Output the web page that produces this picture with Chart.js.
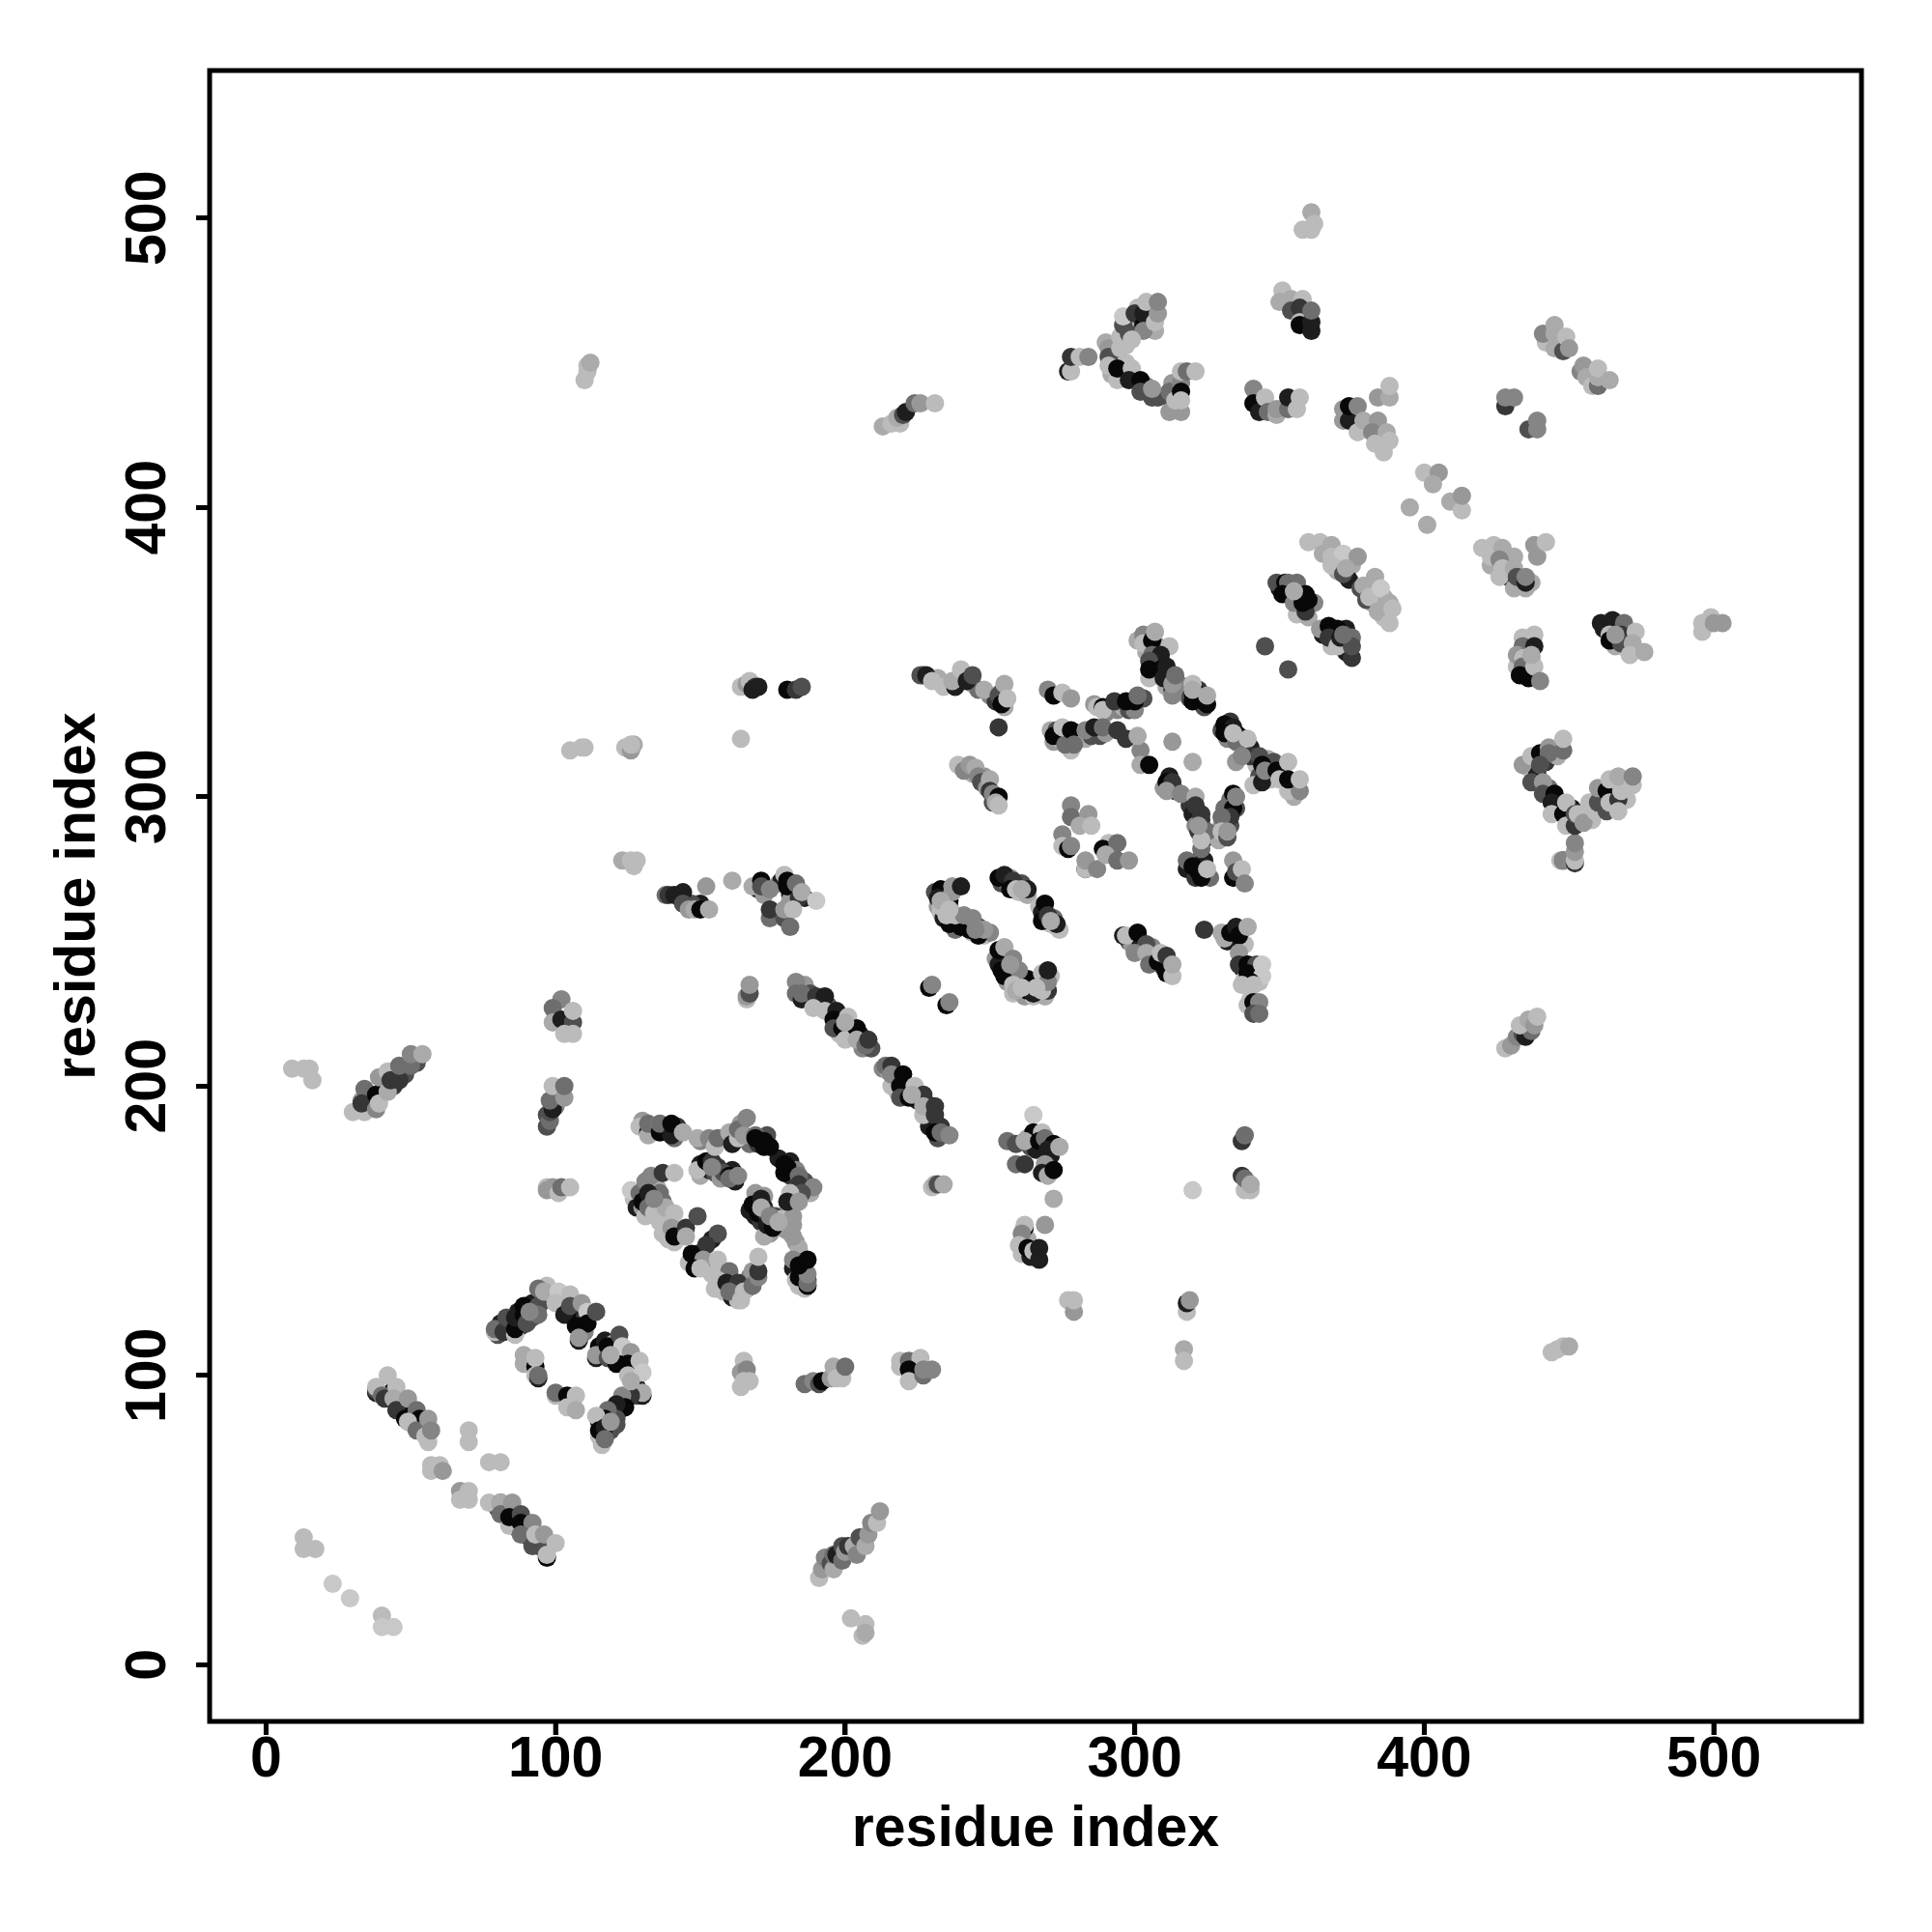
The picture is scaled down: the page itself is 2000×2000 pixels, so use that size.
<!DOCTYPE html>
<html>
<head>
<meta charset="utf-8">
<style>
    html, body { margin: 0; padding: 0; background: #fff; }
    canvas { display: block; }
</style>
<script src="https://cdn.jsdelivr.net/npm/chart.js@4"></script>
</head>
<body>
<canvas id="contactMap" width="2000" height="2000"></canvas>
<script>
// ================= DATA =================
// every point is [residue i, residue j, score], score 0 (dark) .. 9 (pale)
const tickValues = [0, 100, 200, 300, 400, 500];
const shadeLevels = [8, 30, 54, 79, 110, 133, 152, 170, 187, 200];

// pale points sitting on top of the dark runs
const topmost = [[233,264,7],[236,261,8],[245,254,5],[261,268,7],[271,257,7],[257,242,6],[261,234,8],[266,234,8],[171,158,7],[174,155,5],[177,153,7],[134,161,5],[145,148,7],[320,337,7],[325,335,7],[334,322,8],[337,314,5],[322,290,6],[355,371,7],[372,356,4],[437,349,7],[466,356,6],[91,122,5],[119,107,7],[126,98,7],[119,84,6],[200,222,7],[223,197,7],[154,172,5]];

const cornerLow = [[13,44,8],[13,40,8],[17,40,8],[23,28,9],[29,23,9],[40,17,8],[40,13,9],[44,13,9],[202,16,8],[207,14,8],[206,10,8],[207,11,7],[444,108,8],[446,109,8],[448,110,8],[450,110,7]];
const strandLowA = [[38,95,3],[38,96,8],[42,100,8],[40,93,4],[41,92,2],[45,96,8],[44,92,7],[45,88,2],[49,92,6],[48,85,0],[52,88,4],[53,85,0],[49,84,8],[52,81,4],[56,85,6],[56,77,8],[55,79,8],[57,81,5]];
const patchLow = [[57,69,8],[60,69,8],[57,67,8],[61,67,6],[70,81,8],[70,77,8],[77,70,8],[81,70,8],[67,60,6],[70,60,8],[67,57,8],[70,57,8]];
const strandLowB = [[77,56,8],[81,56,4],[81,56,7],[81,52,4],[85,56,6],[84,48,8],[84,51,0],[88,52,3],[88,49,0],[92,49,5],[88,45,4],[92,41,3],[93,45,8],[96,45,6],[100,42,8],[97,37,0],[97,38,8]];
const blockOuter = [[79,115,8],[79,116,4],[82,115,2],[83,120,3],[86,114,8],[86,116,0],[86,120,1],[89,124,0],[89,121,0],[90,118,3],[94,130,4],[94,124,3],[94,121,4],[96,129,7],[101,129,9],[100,125,8],[105,128,8],[103,121,1],[105,124,3],[109,125,6],[107,117,0],[111,122,9],[111,118,0],[114,122,3],[108,112,1],[108,113,6],[114,106,1],[114,107,6],[118,110,0],[122,114,3],[118,106,3],[123,110,9],[121,104,0],[126,108,6],[125,104,0],[125,100,8],[129,105,8],[130,101,9],[130,93,1],[130,94,7],[126,93,2],[123,93,5],[124,89,0],[121,90,1],[121,85,3],[118,88,4],[117,85,0],[114,86,8],[121,83,3],[115,79,8],[115,81,0],[117,82,1],[117,78,4]];
const blockInner = [[89,107,7],[89,104,7],[93,103,0],[93,106,8],[93,100,8],[94,99,1],[94,100,4],[100,93,8],[100,94,4],[104,93,0],[107,93,8],[104,89,8],[107,88,7]];
const helixLeft = [[9,206,8],[13,206,8],[15,206,8],[16,202,8],[30,191,8],[34,191,8],[33,195,6],[34,199,4],[33,194,2],[38,192,5],[38,197,0],[39,194,8],[39,203,6],[42,198,7],[42,205,8],[43,202,2],[46,202,2],[46,207,4],[50,207,4],[50,211,5],[54,211,7]];
const columnA = [[102,230,5],[99,227,4],[99,222,7],[102,223,1],[106,222,3],[103,218,8],[106,218,8],[106,226,8]];
const columnB = [[97,186,3],[98,188,4],[98,191,3],[99,192,1],[98,195,4],[99,200,8],[103,196,6],[103,200,4]];
const columnC = [[97,165,8],[97,164,6],[99,165,6],[101,163,8],[102,165,4],[105,165,8]];
const fanTop = [[129,186,8],[132,184,0],[132,183,7],[132,187,4],[136,187,8],[136,184,0],[136,187,4],[141,182,4],[140,183,1],[140,187,0],[144,184,7],[149,182,7],[153,182,5],[155,179,8],[156,182,4],[160,184,7],[161,180,1],[163,182,8],[163,185,4],[165,183,6],[166,189,5],[169,183,4],[169,182,0],[172,181,0],[172,179,0],[174,179,0]];
const fanRight = [[179,173,0],[180,172,0],[179,170,0],[184,169,4],[184,166,2],[189,165,5],[185,163,3],[181,163,8],[180,160,1],[184,160,6]];
const fanInner = [[149,171,8],[152,174,0],[154,174,2],[156,172,2],[158,170,3],[160,169,0],[160,168,4],[163,169,5]];
const fanMiddle = [[169,163,6],[168,159,0],[171,161,1],[170,156,0],[173,156,3],[172,148,7],[173,152,1],[175,151,0],[175,153,0],[178,154,8],[182,148,6],[182,152,6],[182,155,6]];
const fanTail = [[184,144,7],[182,140,5],[184,131,8],[186,130,8],[184,134,0],[187,131,0],[187,132,4],[187,135,5],[184,138,0],[187,140,0]];
const fanLeft = [[126,164,9],[129,163,4],[131,167,5],[133,169,5],[137,170,2],[141,170,8],[130,160,0],[132,163,1],[132,158,4],[137,160,4],[134,156,8],[138,158,7],[141,156,8],[137,149,8],[140,151,6],[141,146,8],[141,148,0],[145,151,2],[149,155,3]];
const fanLower = [[156,149,3],[152,145,2],[147,142,0],[151,140,6],[148,137,0],[150,137,8],[156,140,8],[157,137,8],[160,136,4],[156,133,8],[159,132,1],[163,132,2],[160,129,4],[164,126,8],[165,129,8],[168,136,6],[168,131,4],[170,134,5],[170,136,2],[170,141,8]];
const rowHundred = [[165,105,8],[164,101,6],[166,102,5],[164,96,8],[165,98,8],[167,98,8],[186,97,4],[189,98,5],[191,97,3],[192,98,0],[195,99,6],[196,103,7],[199,99,8],[197,99,8],[200,103,4],[219,105,8],[219,103,8],[222,105,4],[226,106,8],[222,102,0],[222,98,8],[227,100,4],[227,102,5],[230,102,5]];
const rowSide = [[230,165,8],[231,166,7],[232,166,3],[234,166,7]];
const patchMid = [[139,266,2],[141,266,1],[144,267,1],[144,263,3],[146,261,6],[148,261,7],[152,269,6],[150,261,0],[153,261,7],[161,271,7],[168,269,7],[171,271,0],[171,269,3],[174,268,5],[179,273,8],[180,271,0],[180,269,0],[183,270,4],[184,265,2],[185,267,7],[190,264,9],[174,258,4],[174,261,2],[179,258,3],[179,261,6],[182,261,8],[181,255,4]];
const columnD = [[166,230,8],[166,231,6],[167,232,3],[167,235,6]];
const strandMid = [[183,236,5],[183,232,4],[185,230,1],[185,232,4],[190,231,2],[193,231,1],[189,227,8],[193,226,8],[197,226,1],[196,223,0],[201,224,8],[196,220,3],[199,220,0],[200,216,8],[204,220,0],[204,216,7],[207,214,4],[208,216,2],[214,207,4],[216,207,2],[216,200,8],[216,204,5],[220,204,0],[219,200,0],[219,196,3],[224,200,8],[222,196,0],[227,197,2],[227,190,8],[227,193,7],[231,193,2],[231,190,2],[231,184,0],[233,184,4],[236,183,5],[229,234,0],[230,235,5],[235,228,0],[236,229,5]];
const archLeft = [[233,268,0],[232,265,1],[236,264,0],[236,256,0],[240,255,0],[243,254,0],[246,252,0],[233,262,8],[237,267,6],[237,269,6],[240,269,1],[235,259,8],[238,259,8],[241,259,5],[244,258,5],[248,254,6]];
const archRight = [[253,272,0],[255,273,1],[258,271,2],[257,268,0],[263,268,1],[259,268,8],[269,263,0],[268,257,0],[270,259,2],[273,255,8],[273,256,1]];
const archLow = [[253,247,0],[254,240,0],[255,238,0],[263,237,0],[263,233,0],[265,232,1],[268,235,0],[255,248,7],[258,244,5],[260,240,5],[258,235,8],[259,233,7],[268,233,8],[268,239,8],[270,236,5],[270,240,1]];
const sheetMid = [[296,252,1],[297,252,8],[301,253,0],[304,249,3],[300,246,5],[304,246,7],[305,242,4],[308,243,0],[309,246,8],[311,245,2],[311,239,0],[313,238,8],[313,242,7]];
const sheetRight = [[324,254,2],[331,251,7],[333,253,0],[335,255,1],[336,252,0],[339,255,7],[336,246,6],[336,242,2],[339,242,0],[342,242,3],[339,239,0],[344,238,9],[340,236,0],[337,235,8],[341,235,8],[344,242,9],[340,230,8],[341,229,0],[343,229,5],[341,225,3],[343,225,4]];
const colLowRight = [[256,181,4],[259,180,3],[265,190,9],[265,184,0],[262,181,7],[268,184,8],[267,181,0],[269,182,4],[272,180,0],[270,178,1],[274,179,7],[259,173,4],[262,173,2],[269,173,6],[268,170,1],[270,169,7],[272,171,0],[272,161,7]];
const colLowDown = [[262,151,0],[262,152,8],[261,149,5],[269,152,6],[260,145,8],[263,144,0],[265,143,8],[267,144,1],[267,140,1],[277,126,8],[279,122,6],[279,126,8],[318,122,8],[318,125,1],[319,126,6],[317,109,7],[317,105,8],[320,164,9],[337,181,2],[338,183,4],[337,169,2],[338,164,8],[338,168,4],[340,164,8],[340,166,7]];
const starUp = [[303,356,5],[303,353,8],[306,354,0],[307,357,7],[312,352,8],[306,349,4],[309,349,1],[305,347,3],[305,341,8],[305,344,0],[309,344,0],[311,345,1],[310,341,1],[313,335,5],[313,339,6],[314,342,4],[320,339,8],[320,336,0],[323,335,0],[320,333,0],[324,333,0],[325,332,0]];
const starRight = [[331,325,0],[334,324,1],[331,322,0],[335,312,6],[336,321,0],[335,319,4],[339,320,8],[340,314,2],[343,314,3],[341,304,8],[344,305,1],[344,311,0],[345,309,5],[349,309,0],[353,312,8],[350,306,8],[353,302,8],[357,302,5],[353,306,0],[357,306,8]];
const starOffs = [[345,352,3],[353,344,3],[313,319,6],[320,312,7]];
const starLeft = [[270,337,5],[272,335,0],[275,336,8],[278,334,6],[287,331,8],[289,331,0],[289,330,8],[293,333,2],[300,333,0],[297,333,0],[301,335,4],[273,323,3],[272,321,0],[276,318,4],[275,324,8],[278,323,0],[279,318,4],[283,323,5],[286,324,1],[289,324,4],[294,323,2],[297,320,2],[302,316,5],[302,311,7],[305,311,0],[301,321,7]];
const starLower = [[311,305,0],[313,305,2],[311,302,6],[316,301,5],[321,300,7],[321,297,2],[323,294,2],[322,288,2],[325,288,4],[323,282,4],[323,285,8],[334,301,0],[331,296,4],[334,296,0],[333,293,2],[330,293,4],[330,288,8],[332,286,3],[332,288,6],[335,300,5]];
const starFoot = [[318,278,4],[320,276,0],[322,274,0],[323,272,0],[325,275,8],[334,272,0],[334,278,6],[335,274,3],[337,275,8],[338,270,5]];
const patchUpperMid = [[278,297,5],[278,293,4],[284,294,6],[281,290,7],[285,290,8],[275,287,5],[275,283,8],[277,282,0],[278,283,5],[291,284,8],[289,282,0],[290,280,6],[294,284,4],[283,275,0],[283,275,8],[283,278,6],[287,275,5],[290,280,7],[294,278,4],[298,278,6]];
const strandTopA = [[360,388,8],[364,388,8],[365,384,7],[368,387,7],[368,383,8],[372,384,9],[377,383,6],[368,380,8],[372,377,3],[373,379,7],[383,376,7],[378,372,3],[379,373,7],[380,368,3],[381,369,8],[385,372,9],[388,367,7],[384,364,7],[389,365,8],[388,360,8]];
const strandTopB = [[349,374,3],[352,374,0],[353,374,4],[356,374,4],[351,370,0],[354,370,0],[355,367,5],[359,364,7],[359,364,2],[358,367,0],[359,370,0],[360,368,0]];
const strandTopC = [[364,358,6],[367,359,0],[370,358,0],[367,355,2],[375,355,4],[370,352,8],[371,355,1],[375,348,2],[375,352,3]];
const paleRightA = [[420,386,8],[424,387,8],[423,383,8],[427,386,7],[431,383,7],[426,382,5],[427,379,8],[426,376,8],[431,379,7],[431,372,7],[435,372,7],[432,376,3],[435,374,1],[435,376,5],[439,383,6],[438,387,6],[442,388,8]];
const colRightA = [[438,356,8],[434,355,8],[434,352,4],[438,352,1],[432,349,6],[434,348,0],[434,348,8],[434,345,4],[433,342,0],[436,341,0],[438,345,8],[440,340,5]];
const strandFarRight = [[461,360,1],[465,361,1],[469,360,4],[464,356,8],[464,354,0],[468,356,2],[468,353,3],[473,357,8],[472,353,7],[471,349,8],[476,350,7],[496,360,8],[496,357,8],[499,362,8],[500,360,6],[503,360,6]];
const curveRight = [[434,311,6],[437,314,8],[440,315,0],[443,317,6],[443,315,4],[448,316,4],[448,320,8],[440,311,3],[437,305,3],[441,305,6],[441,301,3],[445,301,0],[444,298,1],[444,294,8],[448,294,0],[449,290,8],[449,298,8],[452,290,2],[452,294,3],[453,294,8],[455,291,6],[457,298,8],[459,295,8],[460,298,3],[460,303,6],[463,302,0],[463,295,3],[464,306,8],[464,298,8],[467,299,2],[467,295,8],[468,302,8],[467,307,7],[472,304,8],[472,307,5]];
const curveFoot = [[447,278,8],[448,278,1],[448,278,5],[452,277,2],[452,278,8],[452,281,6],[452,284,5]];
const colFarRight = [[428,213,8],[430,214,6],[432,217,5],[434,218,3],[435,217,1],[437,219,4],[433,221,8],[436,223,7],[438,221,6],[439,224,8]];
const capTop = [[358,496,8],[361,496,8],[361,502,7],[362,498,8]];
const capStrand = [[351,475,8],[350,471,7],[354,472,7],[358,472,8],[354,468,3],[357,469,2],[357,464,8],[357,463,0],[361,461,1],[361,464,1],[361,468,4]];
const bowlLeft = [[277,447,1],[278,447,8],[278,452,2],[281,452,8],[284,452,5]];
const bowl = [[291,455,6],[291,452,3],[291,449,8],[294,444,8],[294,448,0],[295,455,8],[295,459,8],[296,463,3],[296,466,9],[298,460,3],[300,467,2],[303,463,0],[303,467,1],[303,461,5],[304,471,8],[307,464,8],[308,467,6],[308,471,5],[299,458,8],[299,448,8],[298,444,1],[302,444,0],[302,440,3],[306,438,3],[306,441,6]];
const bowlRight = [[312,433,6],[312,440,4],[314,437,8],[316,443,5],[316,440,0],[316,437,8],[316,447,8],[318,447,4],[321,447,8]];
const capMid = [[341,441,5],[341,436,0],[343,433,1],[345,438,8],[346,433,4],[349,432,7],[349,434,6],[353,434,4],[353,438,1],[356,434,8],[357,438,8]];
const capLow = [[372,434,6],[372,430,6],[374,430,1],[374,435,0],[377,435,5],[377,426,8],[380,427,8],[379,430,7],[384,430,6],[382,426,5],[387,426,7],[383,422,8],[386,419,8],[388,423,8],[384,438,6],[388,438,7],[388,442,8]];
const paleCross = [[400,412,8],[405,412,6],[403,408,7],[409,402,7],[413,399,8],[413,404,6],[395,400,7],[401,394,7]];
const pairDark = [[428,435,2],[428,438,5],[431,438,5],[436,427,3],[439,427,5],[439,430,5]];
const capFar = [[442,457,8],[441,460,5],[445,455,7],[445,460,7],[445,463,7],[448,454,3],[449,459,8],[450,455,6],[454,447,5],[455,449,6],[456,445,7],[458,442,8],[460,442,4],[460,445,7],[460,448,8],[464,444,7]];
const shoulder = [[213,428,7],[216,429,8],[219,429,8],[218,431,7],[220,432,3],[221,433,1],[224,436,4],[226,436,6],[231,436,8],[110,444,8],[111,447,8],[111,449,8],[112,450,7]];
const pale300 = [[105,316,8],[109,317,8],[110,317,8],[124,317,8],[126,316,6],[127,318,7],[126,318,8],[123,278,7],[126,278,8],[127,276,8],[128,278,8],[164,320,8]];
const pale340 = [[164,338,8],[166,339,6],[167,340,8],[169,338,2],[168,337,1],[170,338,1],[180,337,0],[183,337,2],[185,338,3]];
const ridge340 = [[226,342,3],[228,342,1],[230,340,8],[237,340,7],[240,344,8],[242,340,1],[244,342,3],[248,337,7],[253,335,3],[254,332,0],[253,324,2],[255,339,7],[256,334,8]];
const ridge305 = [[239,311,8],[241,309,5],[243,311,6],[245,310,7],[246,307,5],[247,305,3],[249,303,6],[250,306,7],[250,302,2],[251,301,5],[253,300,0],[252,298,7],[253,297,8]];
const strandBottom = [[191,30,8],[192,33,6],[193,37,5],[195,35,3],[196,33,7],[196,38,4],[197,38,1],[199,36,4],[199,41,3],[200,39,6],[201,41,2],[203,41,7],[204,38,5],[205,44,3],[207,41,7],[208,45,6],[209,49,5],[211,49,8],[212,53,6]];

// points that show only as rims behind the ones above
const archUnder = [[231,267,3],[232,262,6],[234,266,0],[233,260,8],[234,258,1],[236,262,5],[238,254,4],[239,257,2],[241,256,8],[244,253,8],[246,255,3],[248,252,8],[250,253,5],[254,270,3],[256,270,4],[257,272,6],[258,269,1],[261,270,3],[260,267,8],[263,266,7],[267,262,8],[268,260,1],[272,258,4],[271,256,8],[274,254,8],[252,244,6],[254,243,7],[256,241,3],[253,242,1],[257,239,8],[256,236,6],[258,232,8],[260,237,3],[262,231,6],[265,231,8],[266,233,2],[269,231,7],[270,233,2],[271,238,8]];
const starUnder = [[304,350,7],[306,346,8],[308,352,5],[307,342,4],[311,338,7],[312,343,8],[313,337,2],[315,339,3],[316,336,8],[318,338,5],[319,334,3],[322,337,2],[324,331,3],[330,323,3],[332,320,5],[333,326,2],[335,322,6],[337,318,4],[339,315,6],[340,317,1],[342,311,8],[343,307,3],[346,313,7],[347,306,8],[348,312,3],[351,307,7],[355,305,3],[355,300,7],[271,323,7],[272,319,6],[274,320,8],[277,320,2],[278,316,8],[283,320,7],[285,321,3],[288,321,3],[290,322,6],[286,332,6],[290,329,5],[294,330,5],[296,331,7],[298,330,3],[300,330,5],[303,334,3],[310,303,6],[312,307,1],[314,302,3],[319,297,2],[320,294,1],[321,290,5],[323,292,2],[325,286,3],[323,279,3],[318,275,1],[321,272,2],[324,278,1],[326,272,4],[328,287,7],[330,290,6],[333,299,4],[335,296,3],[329,285,7],[333,290,3]];
const bowlUnder = [[290,457,7],[292,453,1],[293,451,5],[292,446,7],[296,446,2],[297,450,8],[297,456,8],[298,463,1],[300,461,6],[299,465,7],[301,469,8],[304,466,7],[305,463,3],[305,469,7],[307,461,7],[304,442,5],[308,438,3],[313,437,3],[313,443,6],[315,434,8],[316,433,6]];
const fanUnder = [[130,188,6],[134,186,1],[138,185,2],[142,186,2],[150,181,5],[158,182,7],[162,184,5],[164,187,6],[167,180,4],[170,180,2],[173,183,3],[177,175,1],[181,174,1],[181,169,2],[183,171,5],[186,167,3],[188,163,7],[150,173,1],[150,169,7],[153,171,1],[155,170,3],[157,168,6],[161,171,1],[162,167,1],[170,160,1],[172,162,6],[167,157,1],[169,155,1],[171,153,2],[172,158,1],[174,149,6],[176,155,3],[178,151,6],[180,150,6],[183,146,6],[182,137,1],[183,133,8],[186,137,2],[187,133,1],[127,161,8],[128,158,1],[130,158,6],[133,161,3],[135,165,7],[135,158,5],[136,163,4],[131,155,8],[136,153,8],[139,147,8],[143,149,1],[154,147,1],[149,142,1],[146,139,8],[152,137,7],[154,135,8],[155,130,8],[158,134,2],[158,129,8],[161,127,1],[163,129,8],[166,130,3],[167,134,5],[163,126,8]];
const blockUnder = [[80,114,3],[81,118,1],[84,117,2],[85,119,0],[87,122,1],[88,117,2],[92,125,1],[92,120,3],[96,126,3],[97,131,8],[99,128,8],[102,125,0],[104,126,6],[106,120,1],[107,123,0],[110,120,2],[110,115,5],[115,110,0],[117,112,1],[120,106,1],[120,111,7],[123,106,0],[126,102,7],[127,97,8],[128,93,3],[128,96,1],[122,88,1],[119,86,3],[115,84,1],[119,81,3],[116,76,8]];
const strandUnder = [[186,235,6],[188,232,3],[191,228,8],[194,228,3],[198,222,1],[198,218,8],[202,220,1],[205,218,1],[206,213,5],[209,213,3],[213,206,5],[215,205,6],[218,202,1],[218,198,8],[221,198,1],[224,197,7],[225,195,1],[228,194,1],[230,187,2],[233,186,2],[229,186,1],[232,182,3],[38,94,1],[43,94,1],[47,90,1],[50,87,0],[51,83,3],[54,83,2],[55,81,1],[80,54,3],[83,52,1],[85,50,1],[87,47,1],[90,47,1],[91,44,1],[94,41,3],[95,43,7],[96,40,3],[36,193,6],[38,195,3],[40,198,1],[44,200,2],[48,204,3],[52,208,3],[97,190,3],[100,193,5],[101,197,7]];
const farUnder = [[436,310,8],[438,312,2],[442,312,2],[446,314,7],[439,308,1],[443,303,4],[446,296,1],[450,292,7],[451,296,1],[455,294,7],[458,292,8],[461,300,1],[462,299,8],[466,304,1],[469,304,3],[470,299,8],[435,350,1],[436,343,1],[432,345,8],[437,348,6],[350,372,1],[353,372,2],[355,369,0],[357,365,3],[356,363,8],[360,362,7],[362,367,5],[365,356,1],[368,352,8],[372,352,1],[373,358,1],[373,350,1],[462,358,1],[466,358,2],[466,352,7],[470,356,3],[470,351,8],[301,354,7],[367,385,7],[370,381,6],[375,380,7],[370,378,7],[374,375,1],[382,367,7],[386,362,8],[386,369,7],[423,380,7],[429,381,7],[429,376,1],[433,373,2],[437,374,7]];
const midUnder = [[170,268,1],[172,266,6],[177,270,6],[178,271,1],[181,266,1],[183,267,0],[181,264,6],[186,265,1],[150,263,1],[147,263,3],[143,265,2],[138,266,4],[298,250,3],[299,249,6],[302,250,1],[306,248,5],[307,244,6],[310,241,1],[330,253,7],[332,250,1],[334,251,1],[337,254,0],[338,249,8],[337,241,1],[338,237,8],[341,239,1],[343,236,8],[339,228,8],[342,227,1],[263,182,7],[264,179,3],[266,178,1],[268,179,1],[271,176,1],[263,147,7],[261,142,8],[264,141,1],[227,342,2],[232,341,7],[234,338,8],[238,338,1],[241,342,5],[244,339,7],[246,337,4],[250,335,5],[252,333,2],[254,336,3],[255,331,7],[244,308,7],[248,307,6],[251,298,3]];

// the first dataset ends up on top
const clusters = [
    topmost,
    cornerLow, strandLowA, patchLow, strandLowB, blockOuter, blockInner, helixLeft, columnA, columnB, columnC,
    fanTop, fanRight, fanInner, fanMiddle, fanTail, fanLeft, fanLower, rowHundred, rowSide, patchMid,
    columnD, strandMid, archLeft, archRight, archLow, sheetMid, sheetRight, colLowRight, colLowDown,
    starUp, starRight, starOffs, starLeft, starLower, starFoot, patchUpperMid, strandTopA, strandTopB,
    strandTopC, paleRightA, colRightA, strandFarRight, curveRight, curveFoot, colFarRight, capTop, capStrand,
    bowlLeft, bowl, bowlRight, capMid, capLow, paleCross, pairDark, capFar, shoulder, pale300, pale340,
    ridge340, ridge305, strandBottom,
    archUnder, starUnder, bowlUnder, fanUnder, blockUnder, strandUnder, farUnder, midUnder
];

function shade(score) {
    const g = shadeLevels[score];
    return `rgb(${g},${g},${g})`;
}

// ================= BOX AROUND THE PLOT =================
const plotBox = {
    id: "plotBox",
    afterDraw(chart) {
        const { ctx, chartArea: a, scales } = chart;
        ctx.save();
        ctx.strokeStyle = "#000";
        ctx.lineWidth = 5;
        ctx.strokeRect(a.left, a.top, a.right - a.left, a.bottom - a.top);
        // x ticks
        ctx.beginPath();
        tickValues.forEach(v => {
            const px = scales.x.getPixelForValue(v);
            ctx.moveTo(px, a.bottom);
            ctx.lineTo(px, a.bottom + 14);
        });
        ctx.stroke();
        ctx.restore();
    }
};

const labelFont = { family: "'Liberation Sans'", size: 59, weight: "bold" };

// ================= CHART =================
new Chart(document.getElementById("contactMap"), {
    type: "scatter",
    data: {
        datasets: clusters.map(points => ({
            data: points.map(p => ({ x: p[0], y: p[1] })),
            pointBackgroundColor: points.map(p => shade(p[2])),
            pointBorderWidth: 0,
            pointRadius: 9.5
        }))
    },
    options: {
        responsive: false,
        animation: false,
        events: [],
        layout: { padding: { top: 73, right: 73, left: 0, bottom: 0 } },
        plugins: { legend: { display: false }, tooltip: { enabled: false } },
        scales: {
            x: {
                type: "linear",
                min: -19.5,
                max: 551,
                grid: { drawOnChartArea: false, tickLength: 14, tickWidth: 5, tickColor: "#000" },
                border: { display: false },
                afterFit(scale) { scale.height = 218; },
                afterBuildTicks(scale) { scale.ticks = tickValues.map(v => ({ value: v })); },
                ticks: { color: "#000", font: labelFont, padding: -9, includeBounds: false, autoSkip: false, maxRotation: 0 },
                title: { display: true, text: "residue index", color: "#000", font: labelFont, padding: { top: 0, bottom: 70 } }
            },
            y: {
                type: "linear",
                min: -19.6,
                max: 551,
                grid: { drawOnChartArea: false, tickLength: 14, tickWidth: 5, tickColor: "#000" },
                border: { display: false },
                afterFit(scale) { scale.width = 217; },
                afterBuildTicks(scale) { scale.ticks = tickValues.map(v => ({ value: v })); },
                ticks: { color: "#000", font: labelFont, padding: -1, includeBounds: false, autoSkip: false, minRotation: 90, maxRotation: 90, crossAlign: "center" },
                title: { display: true, text: "residue index", color: "#000", font: labelFont, padding: { top: 46, bottom: 0 } }
            }
        }
    },
    plugins: [plotBox]
});
</script>
</body>
</html>
